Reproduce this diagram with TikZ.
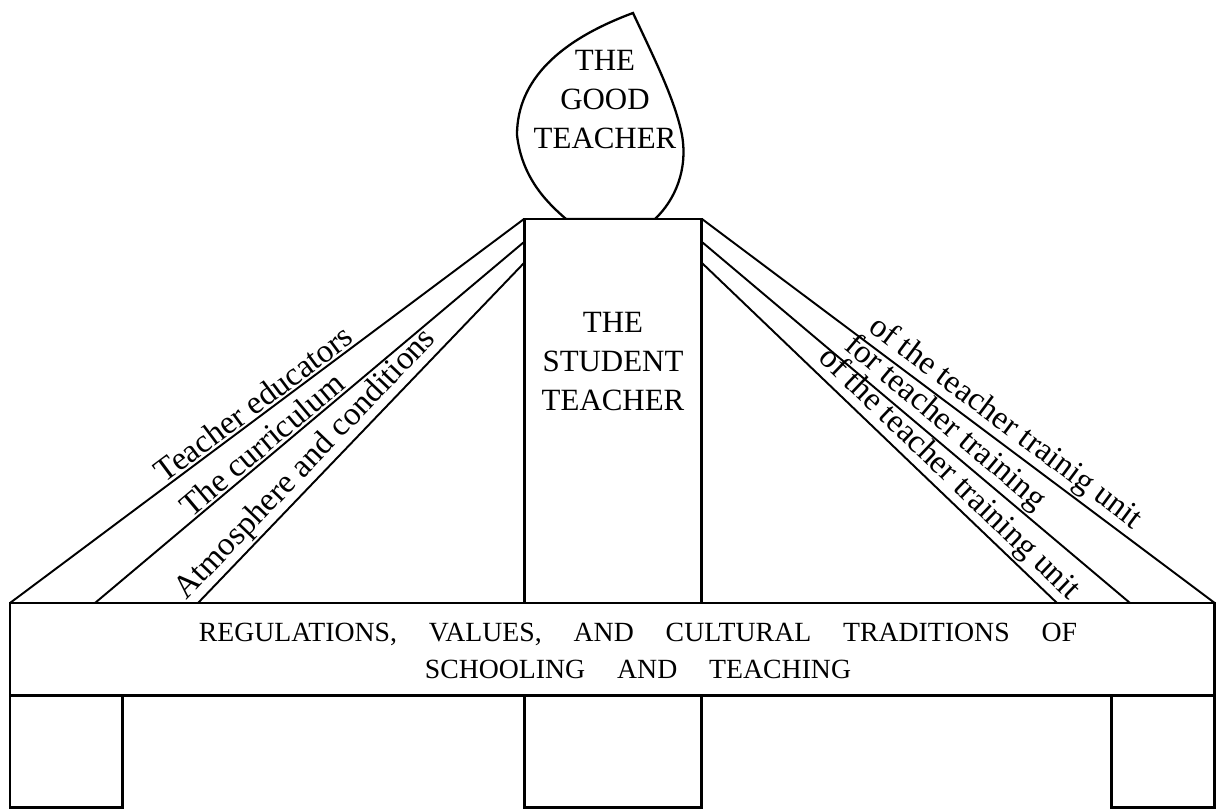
\documentclass[tikz,border=0pt]{standalone}
\usepackage{fontspec}
\setmainfont{Liberation Serif}
\usetikzlibrary{positioning, calc}
\newcommand\widewords{\spaceskip=1.15em\relax}
\tikzset{
box/.style={draw, line width=1.7pt, fill=white, inner sep=0pt, outer sep=0pt}, % post, beam and legs
spoke/.style={line width=1.1pt}, % the slanted strands
strand/.style={font=\fontsize{18.7}{22}\selectfont, sloped, above, inner sep=1pt}, % text running along a strand
title/.style={font=\fontsize{17.6}{22.2}\selectfont, align=center, inner sep=0pt}, % text in the flame and the post
beamtext/.style={font=\fontsize{15.8}{21.5}\selectfont, align=center, inner sep=0pt},
}

\begin{document}
\begin{tikzpicture}[x=0.02cm, y=-0.02cm] % one unit is one pixel, y runs down
                \useasboundingbox (0,0) rectangle (1216,810);
                % the flame
                \draw[line width=1.3pt, fill=white] (566,219) .. controls (550,205) and (522,180) .. (517,135)
                    .. controls (517,80) and (560,40) .. (633,13)
                    .. controls (655,60) and (675,100) .. (682,135)
                    .. controls (688,170) and (675,200) .. (655,219) -- cycle;
                \node[title] (good) at (605,100) {THE\\GOOD\\TEACHER};
                % post, beam and legs
                \node[box, anchor=north west, minimum width=3.56cm, minimum height=9.54cm] (post) at (524,219) {};
                \node[title] (student) at (613,362) {THE\\STUDENT\\TEACHER};
                \node[box, anchor=north west, minimum width=24.1cm, minimum height=1.86cm] (beam) at (10,603) {};
                \node[beamtext] (rules) at (638,651) {\widewords REGULATIONS, VALUES, AND CULTURAL TRADITIONS OF\\\widewords SCHOOLING AND TEACHING};
                \node[box, below right=0pt and 0pt of beam.south west, minimum width=2.26cm, minimum height=2.24cm] (legL) {};
                \node[box, below right=0pt and 0pt of post.south west, minimum width=3.56cm, minimum height=2.24cm] (legM) {};
                \node[box, below left=0pt and 0pt of beam.south east, minimum width=2.06cm, minimum height=2.24cm] (legR) {};
                % ends of the strands
                \coordinate (l2top) at ($(post.north west)+(0,23)$);
                \coordinate (l3top) at ($(post.north west)+(0,44)$);
                \coordinate (r2top) at ($(post.north east)+(0,23)$);
                \coordinate (r3top) at ($(post.north east)+(0,44)$);
                \coordinate (l2bot) at (95,603);
                \coordinate (l3bot) at (198,603);
                \coordinate (r3bot) at (1057,603);
                \coordinate (r2bot) at (1130,603);
                % strands
                \draw[spoke]
                    (beam.north west) -- node[strand, pos=0.49] (edu) {Teacher educators} (post.north west)
                    (l2bot) -- node[strand, pos=0.41] (curr) {The curriculum} (l2top)
                    (l3bot) -- node[strand, pos=0.37] (atmo) {Atmosphere and conditions} (l3top)
                    (post.north east) -- node[strand, pos=0.57] (unitA) {of the teacher trainig unit} (beam.north east)
                    (r2top) -- node[strand, pos=0.54] (train) {for teacher training} (r2bot)
                    (r3top) -- node[strand, pos=0.66] (unitB) {of the teacher training unit} (r3bot)
                    ;
                \end{tikzpicture}
\end{document}
